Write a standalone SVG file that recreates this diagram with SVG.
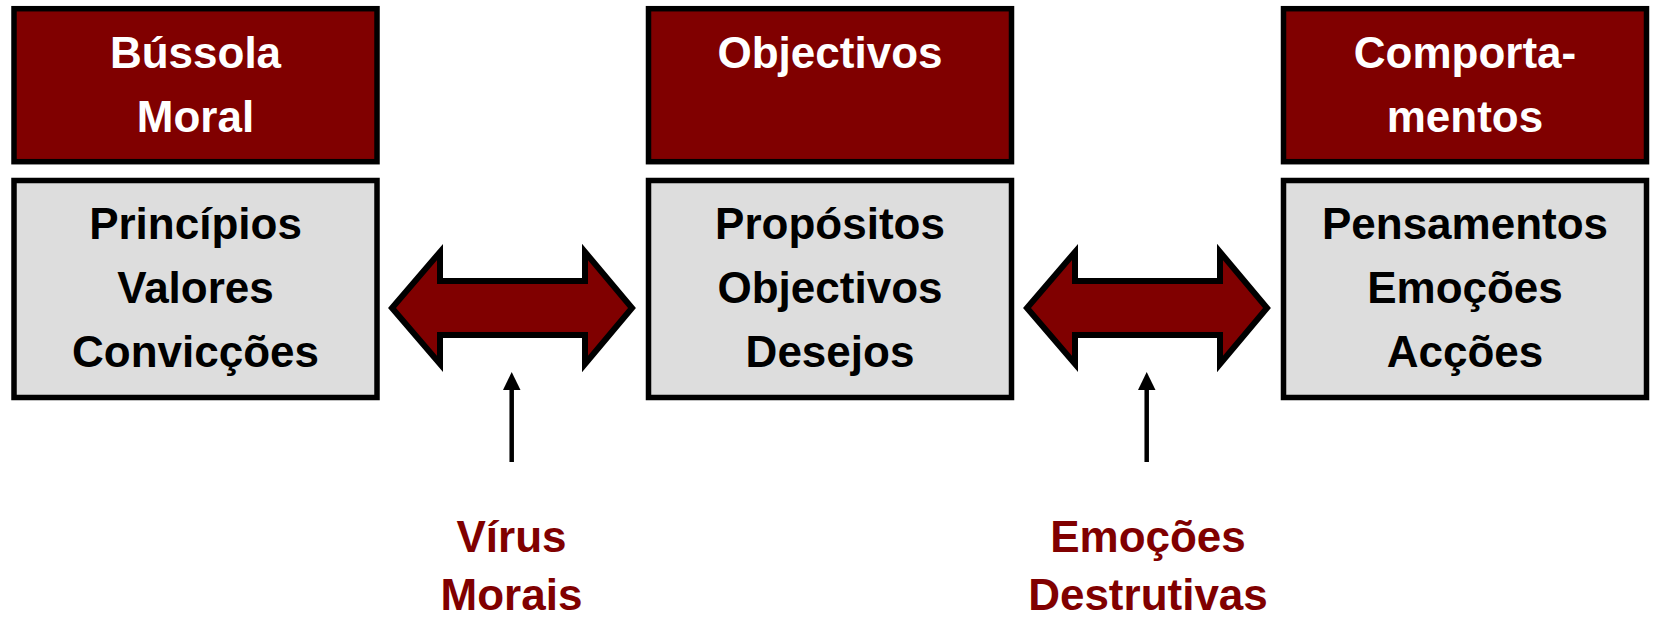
<svg xmlns="http://www.w3.org/2000/svg" width="1653" height="620" viewBox="0 0 1653 620">
<style>
.hdr{fill:#800000;stroke:#000;stroke-width:5.5}
.body{fill:#dddddd;stroke:#000;stroke-width:5.5}
text{font-family:"Liberation Sans",Arial,sans-serif;font-weight:bold;font-size:44px;text-anchor:middle}
.w{fill:#ffffff}
.k{fill:#000000}
.r{fill:#800000}
.dbl{fill:#800000;stroke:#000;stroke-width:6;stroke-linejoin:miter;stroke-miterlimit:10}
.ptr{stroke:#000;stroke-width:4.5;fill:none}
.tip{fill:#000}
</style>
<g id="node-bussola">
<rect class="hdr" x="14" y="8.7" width="363" height="153"/>
<text class="w" x="195.5" y="68">Bússola</text>
<text class="w" x="195.5" y="132">Moral</text>
</g>
<g id="node-principios">
<rect class="body" x="14" y="180.5" width="363" height="217"/>
<text class="k" x="195.5" y="239">Princípios</text>
<text class="k" x="195.5" y="303">Valores</text>
<text class="k" x="195.5" y="367">Convicções</text>
</g>
<g id="node-objectivos">
<rect class="hdr" x="648.5" y="8.7" width="363" height="153"/>
<text class="w" x="830" y="68">Objectivos</text>
</g>
<g id="node-propositos">
<rect class="body" x="648.5" y="180.5" width="363" height="217"/>
<text class="k" x="830" y="239">Propósitos</text>
<text class="k" x="830" y="303">Objectivos</text>
<text class="k" x="830" y="367">Desejos</text>
</g>
<g id="node-comportamentos">
<rect class="hdr" x="1283.5" y="8.7" width="363" height="153"/>
<text class="w" x="1465" y="68">Comporta-</text>
<text class="w" x="1465" y="132">mentos</text>
</g>
<g id="node-pensamentos">
<rect class="body" x="1283.5" y="180.5" width="363" height="217"/>
<text class="k" x="1465" y="239">Pensamentos</text>
<text class="k" x="1465" y="303">Emoções</text>
<text class="k" x="1465" y="367">Acções</text>
</g>
<g id="connectors">
<path class="dbl" d="M392,308 L440,252 L440,281 L585,281 L585,252 L632,308 L585,364 L585,335 L440,335 L440,364 Z"/>
<path class="dbl" d="M1027,308 L1075,252 L1075,281 L1220,281 L1220,252 L1267,308 L1220,364 L1220,335 L1075,335 L1075,364 Z"/>
<line class="ptr" x1="511.7" y1="462" x2="511.7" y2="386"/>
<path class="tip" d="M503,390 L511.7,372 L520.5,390 Z"/>
<line class="ptr" x1="1146.7" y1="462" x2="1146.7" y2="386"/>
<path class="tip" d="M1138,390 L1146.7,372 L1155.5,390 Z"/>
</g>
<g id="node-virus">
<text class="r" x="511.5" y="552">Vírus</text>
<text class="r" x="511.5" y="610">Morais</text>
</g>
<g id="node-emocoes">
<text class="r" x="1148" y="552">Emoções</text>
<text class="r" x="1148" y="610">Destrutivas</text>
</g>
</svg>
